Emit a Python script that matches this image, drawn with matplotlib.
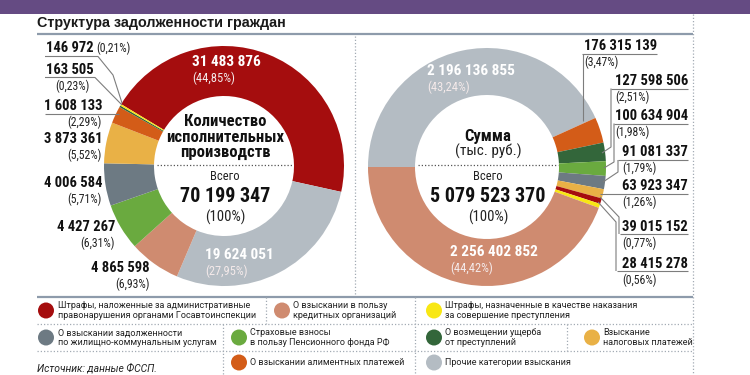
import matplotlib
matplotlib.use("Agg")
import matplotlib.pyplot as plt
from matplotlib.patches import Rectangle, Circle
import matplotlib.font_manager as fm

# ---------------- data ----------------
categories = ['Штрафы ГИБДД', 'Кредитные', 'Штрафы уголовные', 'ЖКХ', 'Пенсионный фонд',
              'Возмещение ущерба', 'Налоговые', 'Алименты', 'Прочие']
legend_texts = ['Штрафы, наложенные за административные\nправонарушения органами Госавтоинспекции',
                'О взыскании в пользу\nкредитных организаций',
                'Штрафы, назначенные в качестве наказания\nза совершение преступления',
                'О взыскании задолженности\nпо жилищно-коммунальным услугам',
                'Страховые взносы\nв пользу Пенсионного фонда РФ',
                'О возмещении ущерба\nот преступлений',
                'Взыскание\nналоговых платежей',
                'О взыскании алиментных платежей',
                'Прочие категории взыскания']
count_values = [31483876, 4865598, 146972, 4006584, 4427267, 163505, 3873361, 1608133, 19624051]
count_pct = [44.85, 6.93, 0.21, 5.71, 6.31, 0.23, 5.52, 2.29, 27.95]
sum_values = [39015152, 2256402852, 28415278, 91081337, 100634904, 127598506, 63923347, 176315139, 2196136855]
sum_pct = [0.77, 44.42, 0.56, 1.79, 1.98, 2.51, 1.26, 3.47, 43.24]
title = 'Структура задолженности граждан'
source = 'Источник: данные ФССП.'

# ---------------- styles ----------------
colors = ['#a50d0e', '#cf8b70', '#f8e714', '#6d7a83', '#6aaa3f', '#33663a', '#e9b146', '#d35c18', '#b4bcc3']
left_order = [0, 8, 1, 4, 3, 6, 7, 5, 2]
right_order = [8, 7, 5, 4, 3, 6, 0, 2, 1]

avail = {f.name for f in fm.fontManager.ttflist}
COND = 'DejaVu Sans'
for n in ['Roboto Condensed', 'Liberation Sans Narrow', 'Open Sans Condensed']:
    if n in avail:
        COND = n
        break
CF = [COND, 'DejaVu Sans']
LF = ['Roboto', 'Liberation Sans', 'DejaVu Sans']

H = 375
def Y(y):
    return H - y

def fmt(v):
    return f'{v:,}'.replace(',', ' ')

def fpct(p):
    return f'({p:.2f}%)'.replace('.', ',')

fig = plt.figure(figsize=(7.5, 3.75), dpi=100)
ax = fig.add_axes([0, 0, 1, 1])

def line(xs, ys, **kw):
    kw.setdefault('color', '#7d7d7d')
    kw.setdefault('lw', 0.8)
    ax.plot(xs, [Y(v) for v in ys], solid_capstyle='butt', **kw)

def dotted(xs, ys, color='#a3abb4'):
    ax.plot(xs, [Y(v) for v in ys], color=color, lw=0.9, linestyle=(0, (1, 1.6)))

def txt(x, y, s, **kw):
    kw.setdefault('va', 'center')
    return ax.text(x, Y(y), s, **kw)

# ---------------- donuts ----------------
ax.pie([count_values[i] for i in left_order], colors=[colors[i] for i in left_order],
       startangle=149, counterclock=False, radius=120, center=(224, Y(166)),
       wedgeprops=dict(width=50, linewidth=0))
ax.pie([sum_values[i] for i in right_order], colors=[colors[i] for i in right_order],
       startangle=180, counterclock=False, radius=119, center=(487, Y(167)),
       wedgeprops=dict(width=47, linewidth=0))

ax.set_xlim(0, 750)
ax.set_ylim(0, 375)
ax.set_aspect('auto')
ax.axis('off')

# header
ax.add_patch(Rectangle((0, Y(14)), 750, 14, color='#654b83', lw=0))
txt(37, 22.5, title, fontsize=10.4, fontweight='bold', family=['Liberation Sans', 'DejaVu Sans'], color='#1a1a1a')
line([37, 693], [34, 34], color='#8e9bab', lw=1.6)
dotted([693, 693], [14, 375])
dotted([355, 355], [36, 296])

NUM = dict(family=CF, fontweight='bold', fontsize=10.5, color='#111111')
PCT = dict(family=CF, fontsize=8.5, color='#222222')

def label(i, vals, pcts, x, y, ha, pct_mode, inside=False):
    kw = dict(NUM)
    pk = dict(PCT)
    if inside:
        kw['color'] = 'white'
        pk['color'] = '#f4eaea'
        kw['fontsize'] = 11
        pk['fontsize'] = 9
    t = txt(x, y, fmt(vals[i]), ha=ha, **kw)
    if pct_mode == 'right':
        ax.annotate(fpct(pcts[i]), xy=(1, 0.5), xycoords=t, xytext=(3, 0), textcoords='offset pixels',
                    ha='left', va='center', **pk)
    elif pct_mode == 'below_left':
        ax.annotate(fpct(pcts[i]), xy=(0, 0.5), xycoords=t, xytext=(0, -16), textcoords='offset pixels',
                    ha='left', va='center', **pk)
    elif pct_mode == 'below_right':
        ax.annotate(fpct(pcts[i]), xy=(1, 0.5), xycoords=t, xytext=(0, -16), textcoords='offset pixels',
                    ha='right', va='center', **pk)
    elif pct_mode == 'below_center':
        ax.annotate(fpct(pcts[i]), xy=(0.55, 0.5), xycoords=t, xytext=(0, -16), textcoords='offset pixels',
                    ha='center', va='center', **pk)

# left donut labels
label(0, count_values, count_pct, 192, 62, 'left', 'below_left', inside=True)
label(8, count_values, count_pct, 205, 255, 'left', 'below_left', inside=True)
label(1, count_values, count_pct, 150, 268, 'right', 'below_right')
label(4, count_values, count_pct, 115, 227, 'right', 'below_right')
label(3, count_values, count_pct, 102, 183, 'right', 'below_right')
label(6, count_values, count_pct, 102, 139, 'right', 'below_right')
label(7, count_values, count_pct, 102, 106, 'right', 'below_right')
label(5, count_values, count_pct, 46, 70, 'left', 'below_center')
label(2, count_values, count_pct, 46, 48, 'left', 'right')

# left leaders
line([45, 98, 113, 122], [56.5, 56.5, 75, 103])
line([45, 95, 122], [77.5, 77.5, 105])
line([45, 119], [114, 114])

# right donut labels
label(8, sum_values, sum_pct, 427, 71, 'left', 'below_left', inside=True)
label(1, sum_values, sum_pct, 450, 252, 'left', 'below_left', inside=True)
label(7, sum_values, sum_pct, 657, 46, 'right', 'below_left')
label(5, sum_values, sum_pct, 688, 81, 'right', 'below_left')
label(4, sum_values, sum_pct, 688, 116, 'right', 'below_left')
label(3, sum_values, sum_pct, 688, 152, 'right', 'below_left')
label(6, sum_values, sum_pct, 688, 186, 'right', 'below_left')
label(0, sum_values, sum_pct, 688, 227, 'right', 'below_left')
label(2, sum_values, sum_pct, 688, 264, 'right', 'below_left')

# right leaders
line([582, 657], [53.5, 53.5]); line([583, 583], [53.5, 121])
line([611, 688], [88.5, 88.5]); line([611, 611, 602], [88.5, 147, 153])
line([614, 688], [123.5, 123.5]); line([614, 614, 604], [123.5, 162, 168])
line([618, 688], [160, 160]); line([618, 618, 603], [160, 172, 182])
line([600, 688], [193.5, 193.5])
line([620, 688], [234, 234]); line([600, 619, 619], [197, 217, 234])
line([617, 688], [271, 271]); line([598, 616, 616], [202, 222, 271])

# centre texts
C1 = dict(family=CF, fontweight='bold', fontsize=12, color='#111111', ha='center')
txt(225, 121, 'Количество', **C1)
txt(225, 137, 'исполнительных', **C1)
txt(225, 152, 'производств', **C1)
txt(488, 136, 'Сумма', **C1)
txt(488, 151, '(тыс. руб.)', family=CF, fontsize=11, color='#222222', ha='center')
for cx, x0, x1, tot in [(225, 157, 293, sum(count_values)), (488, 418, 558, sum(sum_values))]:
    dotted([x0, x1], [165, 165], color='#555555')
    txt(cx, 177, 'Всего', family=CF, fontsize=9, color='#222222', ha='center')
    txt(cx, 196, fmt(tot), family=CF, fontweight='bold', fontsize=14.5, color='#111111', ha='center')
    txt(cx, 217, '(100%)', family=CF, fontsize=10.5, color='#222222', ha='center')

# ---------------- legend ----------------
line([37, 693], [297, 297], color='#8e9bab', lw=1.6)
dotted([37, 693], [324, 324])
dotted([37, 693], [351, 351])
dotted([266, 266], [297, 324])
dotted([415, 415], [297, 375])
dotted([223, 223], [324, 375])
dotted([567, 567], [324, 351])

legend_pos = [(46, 310.5, 58), (282, 310.5, 293), (434, 310.5, 445), (46, 337.5, 58), (239, 337.5, 250),
              (434, 337.5, 445), (592, 337.5, 603), (239, 362.5, 250), (434, 362.5, 445)]
for i, (cx, cy, tx) in enumerate(legend_pos):
    ax.add_patch(Circle((cx, Y(cy)), 8, color=colors[i], lw=0))
    txt(tx, cy, legend_texts[i], family=LF, fontsize=6.5, color='#222222', linespacing=1.1)

txt(37, 368, source, family=LF, fontsize=7.5, style='italic', color='#222222')

fig.savefig('out.png', dpi=100)
